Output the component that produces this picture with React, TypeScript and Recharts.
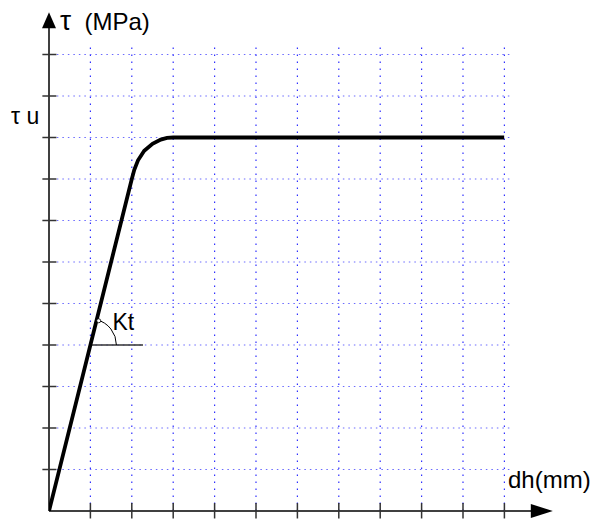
import React from 'react';
import {
  LineChart,
  Line,
  XAxis,
  YAxis,
  ReferenceLine,
  ReferenceDot,
} from 'recharts';

// slip (dh) vs shear stress curve in grid units
const slip = [0, 2, 2.06, 2.15, 2.3, 2.5, 2.7, 2.85, 3, 11];
const stress = [0, 8, 8.22, 8.45, 8.68, 8.85, 8.95, 8.99, 9, 9];

const xTicks = [1, 2, 3, 4, 5, 6, 7, 8, 9, 10, 11];
const yTicks = [1, 2, 3, 4, 5, 6, 7, 8, 9, 10, 11];

const tauSymbol = 'τ';
const yAxisUnit = '(MPa)';
const xAxisLabel = 'dh(mm)';
const tauULabel = 'τ u';
const ktLabel = 'Kt';

const chartData = slip.map((x, i) => ({ x, y: stress[i] }));

const FONT = '"Liberation Sans", Arial, sans-serif';

const textShape = (text: string, dx: number, dy: number, size: number, anchor = 'start') =>
  (props: any) => (
    <text
      x={props.cx + dx}
      y={props.cy + dy}
      fontSize={size}
      fontFamily={FONT}
      fill="#000"
      textAnchor={anchor}
    >
      {text}
    </text>
  );

// y axis title: bigger tau, then the unit
const yTitle = (props: any) => {
  const { cx, cy } = props;
  return (
    <text y={cy + 18} fontFamily={FONT} fill="#000">
      <tspan x={cx + 11} fontSize={28}>{tauSymbol}</tspan>
      <tspan x={cx + 35.5} fontSize={24}>{yAxisUnit}</tspan>
    </text>
  );
};

const upArrow = (props: any) => {
  const { cx, cy } = props;
  return <polygon points={`${cx},${cy} ${cx - 7},${cy + 16} ${cx + 7},${cy + 16}`} fill="#000" />;
};

const rightArrow = (props: any) => {
  const { cx, cy } = props;
  return <polygon points={`${cx},${cy} ${cx - 22},${cy - 7} ${cx - 22},${cy + 7}`} fill="#000" />;
};

// small arc showing the slope Kt
const slopeArc = (props: any) => {
  const { cx, cy } = props;
  const r = 26;
  const a = Math.atan(4);
  const ex = cx + r * Math.cos(a);
  const ey = cy - r * Math.sin(a);
  return (
    <g>
      <path d={`M ${cx + r} ${cy} A ${r} ${r} 0 0 0 ${ex} ${ey}`} fill="none" stroke="#000" strokeWidth={1} />
      <circle cx={ex + 2} cy={ey + 1} r={2} fill="#fff" stroke="#000" strokeWidth={0.8} />
    </g>
  );
};

export default function App() {
  return (
    <div style={{ position: 'absolute', left: 0, top: 0, background: '#fff' }}>
      <LineChart
        width={594}
        height={521}
        data={chartData}
        margin={{ top: 54.5, right: 89.6, bottom: 10, left: 49 }}
      >
        <XAxis dataKey="x" type="number" domain={[0, 11]} allowDataOverflow hide />
        <YAxis type="number" domain={[0, 11]} allowDataOverflow hide />

        {xTicks.map((v) => (
          <ReferenceLine
            key={`gx${v}`}
            segment={[{ x: v, y: 0 }, { x: v, y: 11.18 }]}
            stroke="#3030ff"
            strokeWidth={1.2}
            strokeDasharray="1.5 5.5"
            ifOverflow="visible"
          />
        ))}
        {yTicks.map((v) => (
          <ReferenceLine
            key={`gy${v}`}
            segment={[{ x: 0.19, y: v }, { x: 11.2, y: v }]}
            stroke="#6a6aff"
            strokeWidth={1.2}
            strokeDasharray="1.5 4"
            ifOverflow="visible"
          />
        ))}

        {/* axes */}
        <ReferenceLine segment={[{ x: 0, y: 0 }, { x: 11.8, y: 0 }]} stroke="#000" strokeWidth={1.5} ifOverflow="visible" />
        <ReferenceLine segment={[{ x: 0, y: 0 }, { x: 0, y: 11.8 }]} stroke="#000" strokeWidth={1.5} ifOverflow="visible" />
        {xTicks.map((v) => (
          <ReferenceLine
            key={`tx${v}`}
            segment={[{ x: v, y: -0.18 }, { x: v, y: 0.19 }]}
            stroke="#333"
            strokeWidth={1.5}
            ifOverflow="visible"
          />
        ))}
        {yTicks.map((v) => (
          <ReferenceLine
            key={`ty${v}`}
            segment={[{ x: -0.16, y: v }, { x: 0.18, y: v }]}
            stroke="#333"
            strokeWidth={1.5}
            ifOverflow="visible"
          />
        ))}
        <ReferenceDot x={0} y={12.02} r={0} shape={upArrow} ifOverflow="visible" />
        <ReferenceDot x={12.17} y={0} r={0} shape={rightArrow} ifOverflow="visible" />

        {/* Kt construction */}
        <ReferenceLine segment={[{ x: 1, y: 4 }, { x: 2.27, y: 4 }]} stroke="#333" strokeWidth={1.5} ifOverflow="visible" />
        <ReferenceDot x={1} y={4} r={0} shape={slopeArc} ifOverflow="visible" />

        <Line
          type="linear"
          dataKey="y"
          stroke="#000"
          strokeWidth={3.8}
          dot={false}
          isAnimationActive={false}
        />

        <ReferenceDot x={0} y={12.02} r={0} shape={yTitle} ifOverflow="visible" />
        <ReferenceDot x={0} y={9} r={0} shape={textShape(tauULabel, -38, -14, 23)} ifOverflow="visible" />
        <ReferenceDot x={1} y={4} r={0} shape={textShape(ktLabel, 22, -15, 23)} ifOverflow="visible" />
        <ReferenceDot x={11} y={0} r={0} shape={textShape(xAxisLabel, 3.6, -23, 24)} ifOverflow="visible" />
      </LineChart>
    </div>
  );
}
